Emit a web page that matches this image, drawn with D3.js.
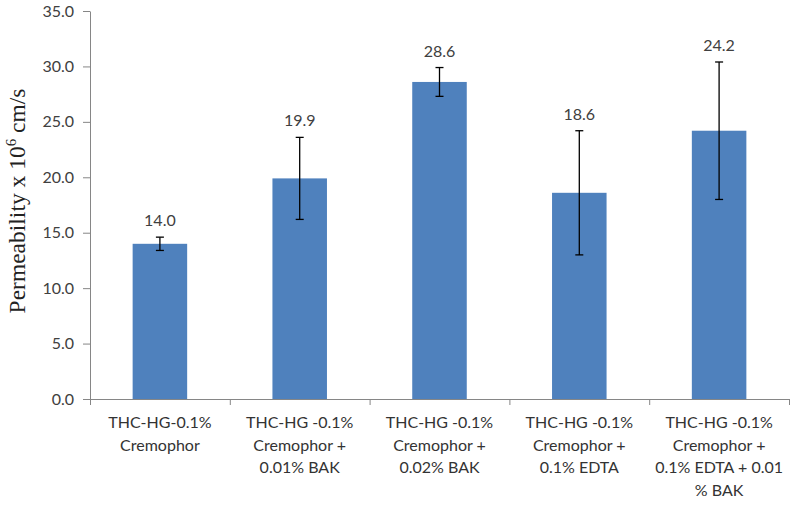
<!DOCTYPE html>
<html><head><meta charset="utf-8">
<script src="https://cdn.jsdelivr.net/npm/d3@7"></script>
<style>body{margin:0;background:#fff}svg{display:block}</style>
</head><body><svg id="c" width="800" height="512"></svg>
<script>
const categories = [
  ["THC-HG-0.1%","Cremophor"],
  ["THC-HG -0.1%","Cremophor +","0.01% BAK"],
  ["THC-HG -0.1%","Cremophor +","0.02% BAK"],
  ["THC-HG -0.1%","Cremophor +","0.1% EDTA"],
  ["THC-HG -0.1%","Cremophor +","0.1% EDTA + 0.01","% BAK"]
];
const values = [14.0, 19.9, 28.6, 18.6, 24.2];
const errors = [0.6, 3.7, 1.3, 5.6, 6.2];
const yTicks = [0,5,10,15,20,25,30,35];

const svg = d3.select("#c");
const m = {l:90, r:11, t:11, b:113};
const W = 800, H = 512;
const x = d3.scaleBand().domain(d3.range(values.length)).range([m.l, W-m.r]).paddingInner(0.61).paddingOuter(0.305);
const y = d3.scaleLinear().domain([0,35]).range([H-m.b, m.t]);
const font = "Lato, 'Open Sans', sans-serif";
const fs = "16px";

// y axis
const ya = svg.append("g").attr("transform",`translate(${m.l},0)`)
  .call(d3.axisLeft(y).tickValues(yTicks).tickFormat(d3.format(".1f")).tickSize(7).tickSizeOuter(0).tickPadding(9));
ya.select(".domain").attr("stroke","#868686");
ya.selectAll(".tick line").attr("stroke","#868686");
ya.selectAll(".tick text").attr("fill","#404040").style("font-family",font).style("font-size",fs);

// x axis
const xb = d3.scaleLinear().domain([0,values.length]).range([m.l, W-m.r]);
const xa = svg.append("g").attr("transform",`translate(0,${y(0)})`)
  .call(d3.axisBottom(xb).tickValues(d3.range(values.length+1)).tickFormat("").tickSize(6).tickSizeOuter(0));
xa.select(".domain").attr("stroke","#868686");
xa.selectAll(".tick line").attr("stroke","#868686");

// bars
svg.append("g").selectAll("rect").data(values).join("rect")
  .attr("x",(d,i)=>x(i)).attr("width",x.bandwidth())
  .attr("y",d=>y(d)).attr("height",d=>y(0)-y(d)).attr("fill","#4F81BD");

// error bars
const eg = svg.append("g").attr("stroke","#000").attr("stroke-width",1.3);
values.forEach((v,i)=>{
  const cx = x(i)+x.bandwidth()/2;
  eg.append("line").attr("x1",cx).attr("x2",cx).attr("y1",y(v+errors[i])).attr("y2",y(v-errors[i]));
  eg.append("line").attr("x1",cx-4).attr("x2",cx+4).attr("y1",y(v+errors[i])).attr("y2",y(v+errors[i]));
  eg.append("line").attr("x1",cx-4).attr("x2",cx+4).attr("y1",y(v-errors[i])).attr("y2",y(v-errors[i]));
});

// data labels
svg.append("g").selectAll("text").data(values).join("text")
  .attr("x",(d,i)=>x(i)+x.bandwidth()/2).attr("y",(d,i)=>y(d+errors[i])-11)
  .attr("text-anchor","middle").attr("fill","#404040")
  .style("font-family",font).style("font-size",fs)
  .text(d=>d3.format(".1f")(d));

// category labels
const cg = svg.append("g");
categories.forEach((lines,i)=>{
  const t = cg.append("text").attr("x",x(i)+x.bandwidth()/2).attr("y",y(0)+29)
    .attr("text-anchor","middle").attr("fill","#333")
    .style("font-family",font).style("font-size",fs);
  lines.forEach((s,j)=>t.append("tspan").attr("x",x(i)+x.bandwidth()/2).attr("dy",j?22.5:0).text(s));
});

// y title
const yt = svg.append("text").attr("transform","translate(25,201) rotate(-90)")
  .attr("text-anchor","middle").attr("fill","#222")
  .style("font-family","'Liberation Serif', 'Times New Roman', serif").style("font-size","23.5px");
yt.append("tspan").text("Permeability x 10");
yt.append("tspan").attr("dy",-9).style("font-size","15px").text("6");
yt.append("tspan").attr("dy",9).text(" cm/s");
</script></body></html>
